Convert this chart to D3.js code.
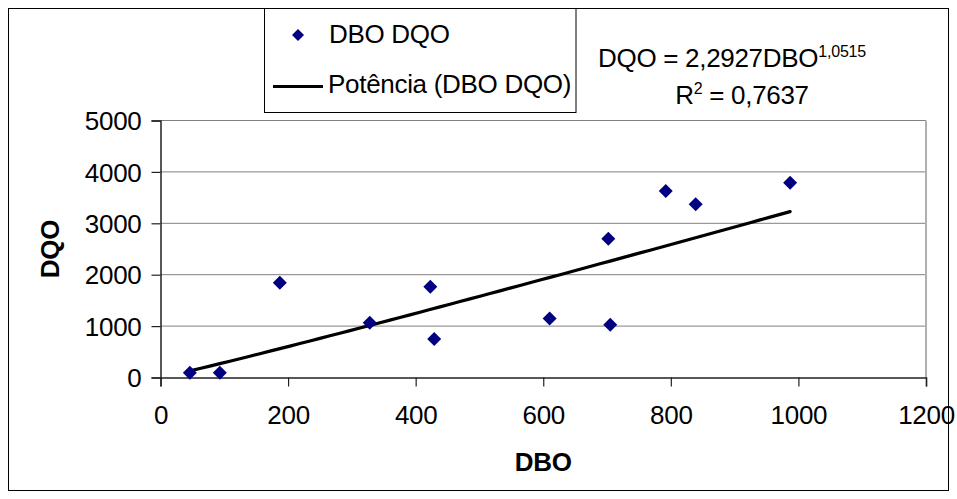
<!DOCTYPE html>
<html><head><meta charset="utf-8">
<script src="https://cdn.jsdelivr.net/npm/d3@7"></script>
<style>
html,body{margin:0;padding:0;background:#fff;}
text{font-family:"Liberation Sans",Arial,sans-serif;fill:#000;}
</style></head>
<body><svg id="c" width="957" height="499"></svg>
<script>
// ---- data ----
const dbo = [46, 93, 187, 328, 423, 429, 610, 702, 705, 792, 839, 987];
const dqo = [93, 93, 1844, 1066, 1767, 749, 1150, 2700, 1027, 3628, 3370, 3790];
const xTicks = [0, 200, 400, 600, 800, 1000, 1200];
const yTicks = [0, 1000, 2000, 3000, 4000, 5000];
const trendCoef = [2.2927];
const trendExp = [1.0515];
const seriesName = ["DBO DQO"];
const trendName = ["Potência (DBO DQO)"];

const svg = d3.select("#c");
const x = d3.scaleLinear().domain([0, 1200]).range([160.5, 926]);
const y = d3.scaleLinear().domain([0, 5000]).range([377.5, 120.5]);
const FS = 26;
const LS = -0.3;

// outer border
svg.append("rect").attr("x", 8.5).attr("y", 8.5).attr("width", 940).attr("height", 482)
  .attr("fill", "#fff").attr("stroke", "#000").attr("stroke-width", 1);

// gridlines
svg.append("g").selectAll("line").data(yTicks.filter(d => d > 0)).join("line")
  .attr("x1", x(0)).attr("x2", x(1200)).attr("y1", d => y(d)).attr("y2", d => y(d))
  .attr("stroke", "#808080").attr("stroke-width", 1);

// plot area right border
svg.append("line").attr("x1", x(1200)).attr("x2", x(1200)).attr("y1", y(5000)).attr("y2", y(0))
  .attr("stroke", "#b0b0b0").attr("stroke-width", 2);

// axes
const yAxis = d3.axisLeft(y).tickValues(yTicks).tickSize(9).tickPadding(10).tickFormat(d3.format("d"));
const gy = svg.append("g").attr("transform", `translate(${x(0)},0)`).call(yAxis);
const xAxis = d3.axisBottom(x).tickValues(xTicks).tickSize(9).tickPadding(19).tickFormat(d3.format("d"));
const gx = svg.append("g").attr("transform", `translate(0,${y(0)})`).call(xAxis);
[gx, gy].forEach(g => {
  g.select(".domain").attr("stroke", "#222").attr("stroke-width", 1.5);
  g.selectAll(".tick line").attr("stroke", "#222").attr("stroke-width", 1.2);
  g.selectAll(".tick text").attr("font-size", FS).attr("font-family", "Liberation Sans, Arial, sans-serif")
    .attr("fill", "#000").attr("letter-spacing", LS);
});
gy.selectAll(".tick text").attr("dy", "0.35em");
gx.selectAll(".tick text").attr("dy", "0.71em");

// axis titles
svg.append("text").attr("x", (x(0) + x(1200)) / 2).attr("y", 471).attr("text-anchor", "middle")
  .attr("font-size", FS).attr("font-weight", "bold").attr("letter-spacing", LS).text("DBO");
svg.append("text").attr("transform", `translate(59,${(y(0) + y(5000)) / 2}) rotate(-90)`)
  .attr("text-anchor", "middle").attr("font-size", FS).attr("font-weight", "bold")
  .attr("letter-spacing", LS).text("DQO");

// trendline
const xMin = d3.min(dbo), xMax = d3.max(dbo);
const tPts = d3.range(0, 61).map(i => {
  const xv = xMin + (xMax - xMin) * i / 60;
  return [xv, trendCoef[0] * Math.pow(xv, trendExp[0])];
});
svg.append("path").datum(tPts)
  .attr("d", d3.line().x(d => x(d[0])).y(d => y(d[1])))
  .attr("fill", "none").attr("stroke", "#000").attr("stroke-width", 3.2)
  .attr("stroke-linejoin", "round").attr("stroke-linecap", "round");

// points
const diamond = r => `M0,${-r}L${r},0L0,${r}L${-r},0Z`;
svg.append("g").selectAll("path").data(dbo.map((d, i) => [d, dqo[i]])).join("path")
  .attr("transform", d => `translate(${x(d[0])},${y(d[1])})`)
  .attr("d", diamond(7)).attr("fill", "#000080");

// legend
const lg = svg.append("g");
lg.append("rect").attr("x", 264.5).attr("y", 8.5).attr("width", 311.5).attr("height", 104)
  .attr("fill", "#fff").attr("stroke", "#000").attr("stroke-width", 1);
lg.append("path").attr("transform", "translate(298,35)").attr("d", diamond(6)).attr("fill", "#000080");
lg.append("text").attr("x", 329).attr("y", 43).attr("font-size", FS).attr("letter-spacing", LS).text(seriesName[0]);
lg.append("line").attr("x1", 273).attr("x2", 323).attr("y1", 86.5).attr("y2", 86.5)
  .attr("stroke", "#000").attr("stroke-width", 3.2);
lg.append("text").attr("x", 328).attr("y", 93).attr("font-size", FS).attr("letter-spacing", LS).text(trendName[0]);

// equation
const eq = svg.append("text").attr("x", 598).attr("y", 67).attr("font-size", FS).attr("letter-spacing", LS);
eq.append("tspan").text("DQO = " + String(trendCoef[0]).replace(".", ",") + "DBO");
eq.append("tspan").attr("font-size", 16).attr("dy", -10).attr("letter-spacing", -0.2)
  .text(String(trendExp[0]).replace(".", ","));
const r2 = svg.append("text").attr("x", 742).attr("y", 104).attr("text-anchor", "middle")
  .attr("font-size", FS).attr("letter-spacing", LS);
r2.append("tspan").text("R");
r2.append("tspan").attr("font-size", 16).attr("dy", -10).text("2");
r2.append("tspan").attr("dy", 10).text(" = 0,7637");
</script></body></html>
